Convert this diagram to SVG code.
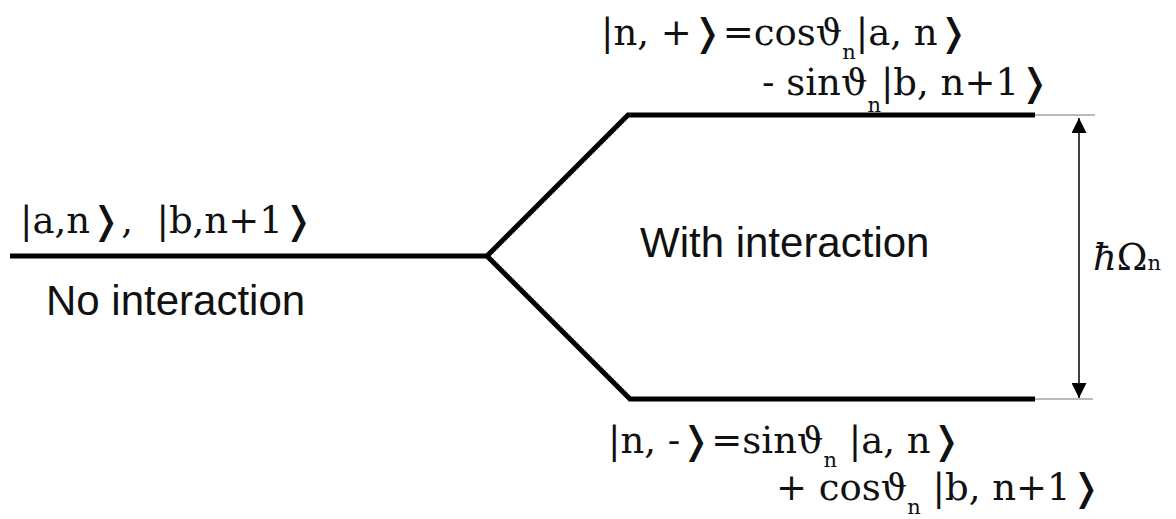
<svg xmlns="http://www.w3.org/2000/svg" width="1176" height="519" viewBox="0 0 1176 519">
<style>
.lvl{fill:none;stroke:#000;stroke-width:5;stroke-linejoin:miter}
.thin{fill:none;stroke:#777;stroke-width:1}
.ket{font-family:"DejaVu Serif","Liberation Serif",serif;font-size:37px;fill:#111}
.sub{font-size:21px}
.lab{font-family:"Liberation Sans",Arial,sans-serif;font-size:42px;fill:#111}
.br{font-family:"DejaVu Sans",sans-serif}
</style>
<defs>
<marker id="ah" markerWidth="15" markerHeight="15" refX="15" refY="7.5" orient="auto-start-reverse" markerUnits="userSpaceOnUse" viewBox="0 0 15 15">
<path d="M0,0 L15,7.5 L0,15 Z" fill="#000"/>
</marker>
</defs>
<g id="connectors">
<path class="lvl" d="M10,256 L487,256"/>
<path class="lvl" d="M1035,115 L628,115 L487,256 L630,399 L1035,399"/>
<path class="thin" d="M1035,115 L1095,115"/>
<path class="thin" d="M1035,399 L1093,399"/>
<path d="M1079,118 L1079,398" stroke="#000" stroke-width="1.5" marker-start="url(#ah)" marker-end="url(#ah)"/>
</g>
<g id="node-plus">
<text class="ket" x="601" y="45" xml:space="preserve">|n, +<tspan class="br">❭</tspan>=cosϑ<tspan class="sub" dy="14">n</tspan><tspan dy="-14">|a, n</tspan><tspan class="br">❭</tspan></text>
<text class="ket" x="762" y="95" xml:space="preserve">- sinϑ<tspan class="sub" dy="17">n</tspan><tspan dy="-17">|b, n+1</tspan><tspan class="br">❭</tspan></text>
</g>
<g id="node-left">
<text class="ket" x="20" y="233" xml:space="preserve">|a,n<tspan class="br">❭</tspan>,  |b,n+1<tspan class="br">❭</tspan></text>
<text class="lab" x="46" y="315">No interaction</text>
</g>
<g id="node-center">
<text class="lab" x="640" y="257">With interaction</text>
</g>
<g id="node-omega">
<text class="ket" x="1093" y="270" font-size="34"><tspan font-style="italic">ħ</tspan>Ω<tspan class="sub">n</tspan></text>
</g>
<g id="node-minus">
<text class="ket" x="608" y="453" xml:space="preserve">|n, -<tspan class="br">❭</tspan>=sinϑ<tspan class="sub" dy="14">n</tspan><tspan dy="-14"> |a, n</tspan><tspan class="br">❭</tspan></text>
<text class="ket" x="776" y="500" xml:space="preserve">+ cosϑ<tspan class="sub" dy="14">n</tspan><tspan dy="-14"> |b, n+1</tspan><tspan class="br">❭</tspan></text>
</g>
</svg>
